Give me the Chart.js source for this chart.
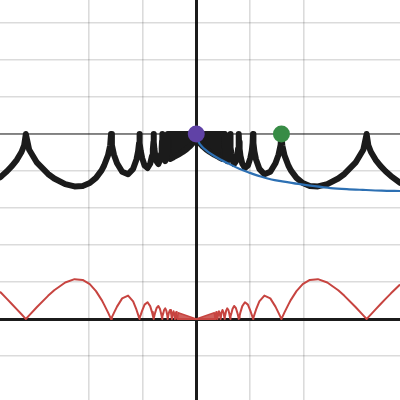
<!DOCTYPE html>
<html>
<head>
<meta charset="utf-8">
<script src="https://cdn.jsdelivr.net/npm/chart.js@4.4.1/dist/chart.umd.min.js"></script>
<style>
html,body{margin:0;padding:0;background:#fff;}
#wrap{width:400px;height:400px;}
</style>
</head>
<body>
<div id="wrap"><canvas id="c" width="400" height="400"></canvas></div>
<script>
// ---- data (x, y in grid units) ----
const leftX = [-3.652,-3.623,-3.522,-3.427,-3.337,-3.251,-3.202,-3.170,
 -3.108,-2.963,-2.757,-2.642,-2.438,-2.264,-2.113,-1.981,-1.865,-1.761,-1.714,-1.642,-1.601,-1.585,
 -1.569,-1.531,-1.474,-1.378,-1.268,-1.174,-1.112,-1.082,-1.064,-1.057,
 -1.050,-1.033,-1.006,-0.961,-0.906,-0.857,-0.823,-0.807,-0.796,-0.7925,
 -0.7886,-0.7789,-0.7639,-0.7372,-0.7044,-0.6745,-0.6536,-0.6430,-0.6365,-0.634,
 -0.6315,-0.6252,-0.6155,-0.5981,-0.5764,-0.5561,-0.5419,-0.5346,-0.5301,-0.5283];
const blackLeftY = [3.829,3.863,3.993,4.137,4.303,4.514,4.694,5,
 4.573,4.224,3.920,3.797,3.645,3.584,3.597,3.675,3.815,4.018,4.149,4.423,4.694,5,
 4.697,4.442,4.211,3.981,3.913,4.059,4.314,4.531,4.751,5,
 4.752,4.543,4.348,4.150,4.081,4.196,4.410,4.596,4.784,5,
 4.785,4.602,4.432,4.255,4.190,4.287,4.474,4.639,4.807,5,
 4.808,4.644,4.490,4.329,4.267,4.353,4.521,4.671,4.824,5];
const redLeftY = [0.736,0.694,0.544,0.400,0.260,0.127,0.050,0,
 0.098,0.323,0.626,0.777,0.986,1.077,1.057,0.942,0.754,0.518,0.389,0.179,0.050,0,
 0.049,0.167,0.335,0.557,0.634,0.475,0.252,0.118,0.033,0,
 0.033,0.113,0.228,0.389,0.453,0.347,0.187,0.088,0.025,0,
 0.025,0.085,0.173,0.298,0.352,0.273,0.148,0.070,0.020,0,
 0.020,0.068,0.140,0.242,0.288,0.225,0.123,0.058,0.017,0];

const rightX = [0.5283,0.5301,0.5346,0.5419,0.5561,0.5764,0.5981,0.6155,0.6252,0.6315,
 0.634,0.6365,0.6430,0.6536,0.6745,0.7044,0.7372,0.7639,0.7789,0.7886,
 0.7925,0.796,0.807,0.823,0.857,0.906,0.961,1.006,1.033,1.050,
 1.057,1.064,1.082,1.112,1.174,1.268,1.378,1.474,1.531,1.569,
 1.585,1.601,1.642,1.714,1.761,1.865,1.981,2.113,2.264,2.438,2.642,2.757,2.963,3.108,
 3.170,3.202,3.251,3.337,3.427,3.522,3.623,3.792];
const blackRightY = [5,4.824,4.671,4.521,4.353,4.267,4.329,4.490,4.644,4.808,
 5,4.807,4.639,4.474,4.287,4.190,4.255,4.432,4.602,4.785,
 5,4.784,4.596,4.410,4.196,4.081,4.150,4.348,4.543,4.752,
 5,4.751,4.531,4.314,4.059,3.913,3.981,4.211,4.442,4.697,
 5,4.694,4.423,4.149,4.018,3.815,3.675,3.597,3.584,3.645,3.797,3.920,4.224,4.573,
 5,4.694,4.514,4.303,4.137,3.993,3.863,3.682];
const redRightY = [0,0.017,0.058,0.123,0.225,0.288,0.242,0.140,0.068,0.020,
 0,0.020,0.070,0.148,0.273,0.352,0.298,0.173,0.085,0.025,
 0,0.025,0.088,0.187,0.347,0.453,0.389,0.228,0.113,0.033,
 0,0.033,0.118,0.252,0.475,0.634,0.557,0.335,0.167,0.049,
 0,0.050,0.179,0.389,0.518,0.754,0.942,1.057,1.077,0.986,0.777,0.626,0.323,0.098,
 0,0.050,0.127,0.260,0.400,0.544,0.694,0.933];

// small red arcs near the origin
const redInnerX = [-0.5072,-0.4877,-0.4696,-0.4529,-0.4372,-0.4227,-0.4090,-0.3963,-0.3842,-0.3729,-0.3623,-0.3522,
 0, 0.3522,0.3623,0.3729,0.3842,0.3963,0.4090,0.4227,0.4372,0.4529,0.4696,0.4877,0.5072];
const redInnerY = [0.1793,0.2438,0.1660,0,0.1546,0.2113,0.1446,0,0.1358,0.1865,0.1281,0,
 0, 0,0.1281,0.1865,0.1358,0,0.1446,0.2113,0.1546,0,0.1660,0.2438,0.1793];

// dense oscillation areas
const blackWedgeX = [-0.5283,-0.5154,-0.4877,-0.4227,-0.3337,-0.2536,-0.1811,-0.1243,-0.0783,-0.0394,-0.01585,0,
 0.01585,0.0394,0.0783,0.1243,0.1811,0.2536,0.3337,0.4227,0.4877,0.5154,0.5283];
const blackWedgeY = [5,4.533,4.326,4.373,4.443,4.514,4.589,4.660,4.730,4.808,4.879,5,
 4.879,4.808,4.730,4.660,4.589,4.514,4.443,4.373,4.326,4.533,5];
const redWedgeX = [-0.3522,-0.3337,0,0.3337,0.3522];
const redWedgeY = [0,0.1668,0,0.1668,0];

// blue curve
const blueX = [0,0.05,0.1,0.2,0.3,0.45,0.6,0.8,1.0,1.2,1.4,1.6,1.9,2.2,2.5,2.8,3.1,3.45,3.8];
const blueY = [5,4.77,4.67,4.54,4.44,4.31,4.20,4.06,3.95,3.85,3.77,3.72,3.65,3.59,3.54,3.51,3.49,3.47,3.46];

// gray horizontal line and points
const grayX = [-3.7, 3.8];
const grayY = [5, 5];
const purplePt = [0, 5];
const greenPt = [1.585, 5];

// axis window
const xMin = -3.651, xMax = 3.791, yMin = -2.189, yMax = 8.622;

// ---- build ----
const zip = (xs, ys) => xs.map((x, i) => ({x, y: ys[i]}));
const blackData = zip(leftX, blackLeftY).concat(zip(rightX, blackRightY));
const redData = zip(leftX, redLeftY).concat(zip(redInnerX, redInnerY)).concat(zip(rightX, redRightY));

const BLACK = '#1b1b1b', RED = '#c74440', BLUE = '#2d70b3', GREEN = '#388c46', PURPLE = '#6042a6';

const gridOpts = {
  drawTicks: false,
  color: c => (c.tick && Math.abs(c.tick.value) < 1e-9) ? BLACK : 'rgba(0,0,0,0.14)',
  lineWidth: c => (c.tick && Math.abs(c.tick.value) < 1e-9) ? 3 : 1.6
};
const onlyInts = s => { s.ticks = s.ticks.filter(t => Math.abs(t.value - Math.round(t.value)) < 1e-9); };

new Chart(document.getElementById('c'), {
  type: 'line',
  data: {
    datasets: [
      {data: [{x: purplePt[0], y: purplePt[1]}], showLine: false, pointRadius: 8.5, pointBackgroundColor: PURPLE, pointBorderColor: PURPLE, pointBorderWidth: 0, order: 0},
      {data: [{x: greenPt[0], y: greenPt[1]}], showLine: false, pointRadius: 8.5, pointBackgroundColor: GREEN, pointBorderColor: GREEN, pointBorderWidth: 0, order: 1},
      {data: zip(blueX, blueY), borderColor: BLUE, borderWidth: 2.2, pointRadius: 0, cubicInterpolationMode: 'monotone', fill: false, order: 2},
      {data: blackData, borderColor: BLACK, borderWidth: 6, pointRadius: 0, tension: 0, borderJoinStyle: 'round', borderCapStyle: 'round', fill: false, order: 3},
      {data: zip(blackWedgeX, blackWedgeY), borderColor: BLACK, backgroundColor: BLACK, borderWidth: 6, pointRadius: 0, tension: 0, borderJoinStyle: 'round', fill: {value: 5}, order: 4},
      {data: redData, borderColor: RED, borderWidth: 2, pointRadius: 0, tension: 0, borderJoinStyle: 'round', fill: false, order: 5},
      {data: zip(redWedgeX, redWedgeY), borderColor: RED, backgroundColor: 'rgba(199,68,64,0.85)', borderWidth: 1.5, pointRadius: 0, tension: 0, fill: 'origin', order: 6},
      {data: zip(grayX, grayY), borderColor: 'rgba(0,0,0,0.42)', borderWidth: 2, pointRadius: 0, fill: false, order: 7}
    ]
  },
  options: {
    responsive: false,
    animation: false,
    events: [],
    layout: {padding: 0, autoPadding: false},
    plugins: {legend: {display: false}, tooltip: {enabled: false}},
    scales: {
      x: {type: 'linear', min: xMin, max: xMax, ticks: {display: false, stepSize: 1}, grid: gridOpts, border: {display: false}, afterBuildTicks: onlyInts},
      y: {type: 'linear', min: yMin, max: yMax, ticks: {display: false, stepSize: 1}, grid: gridOpts, border: {display: false}, afterBuildTicks: onlyInts}
    }
  }
});
</script>
</body>
</html>
